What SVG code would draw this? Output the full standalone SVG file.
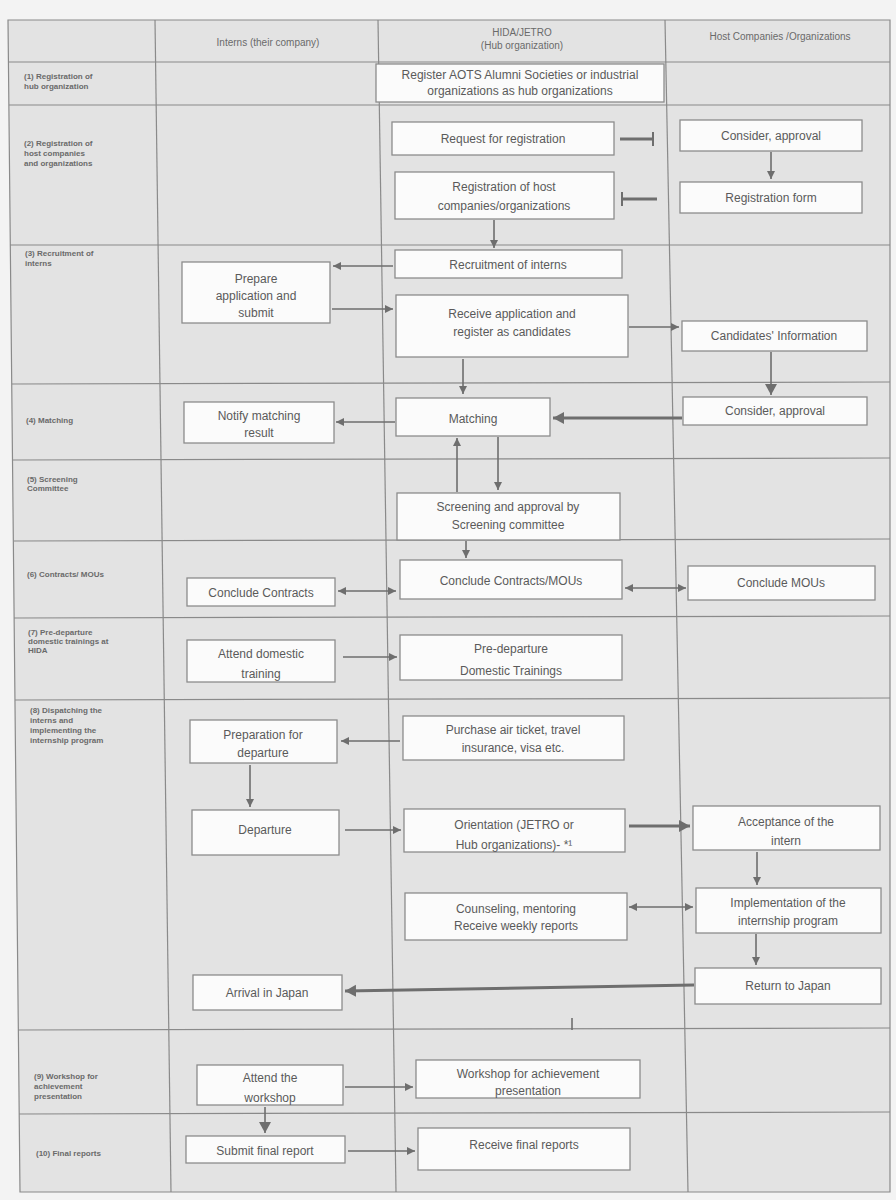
<svg xmlns="http://www.w3.org/2000/svg" width="896" height="1200" viewBox="0 0 896 1200">
<defs>
<style>
.grid{stroke:#8a8a8a;stroke-width:1.2;fill:none}
.box{fill:#fbfbfb;stroke:#8c8c8c;stroke-width:1.3}
.t{font-family:"Liberation Sans",Arial,sans-serif;font-size:12px;fill:#5a5a5a;text-anchor:middle}
.lbl{font-family:"Liberation Sans",Arial,sans-serif;font-size:8px;font-weight:bold;fill:#6a6a6a}
.hd{font-family:"Liberation Sans",Arial,sans-serif;font-size:10px;fill:#6a6a6a;text-anchor:middle}
.c{stroke:#6e6e6e;stroke-width:1.6;fill:none}
.ck{stroke:#6e6e6e;stroke-width:3;fill:none}
</style>
<marker id="ah" markerUnits="userSpaceOnUse" markerWidth="10" markerHeight="10" refX="8" refY="4" orient="auto"><path d="M0,0 L8,4 L0,8 z" fill="#6e6e6e"/></marker>
<marker id="as" markerUnits="userSpaceOnUse" markerWidth="10" markerHeight="10" refX="0" refY="4" orient="auto"><path d="M8,0 L0,4 L8,8 z" fill="#6e6e6e"/></marker>
<marker id="ahk" markerUnits="userSpaceOnUse" markerWidth="14" markerHeight="14" refX="11" refY="6" orient="auto"><path d="M0,0 L11,6 L0,12 z" fill="#6e6e6e"/></marker>
<marker id="bar" markerUnits="userSpaceOnUse" markerWidth="4" markerHeight="14" refX="2" refY="7" orient="auto"><path d="M1,0 L1,14" stroke="#6e6e6e" stroke-width="2"/></marker>
</defs>
<rect width="896" height="1200" fill="#f3f3f3"/>
<g id="table">
<path d="M8,20 L890,20 L890,1192 L20,1192 Z" fill="#e3e3e3" stroke="#8a8a8a" stroke-width="1.2"/>
<line class="grid" x1="155" y1="20" x2="171" y2="1192"/>
<line class="grid" x1="378" y1="20" x2="396" y2="1192"/>
<line class="grid" x1="665" y1="20" x2="688" y2="1192"/>
<line class="grid" x1="9" y1="62" x2="890" y2="62"/>
<line class="grid" x1="9" y1="105" x2="890" y2="105"/>
<line class="grid" x1="10" y1="245" x2="890" y2="245"/>
<line class="grid" x1="12" y1="384" x2="890" y2="382"/>
<line class="grid" x1="13" y1="460" x2="890" y2="458"/>
<line class="grid" x1="14" y1="541" x2="890" y2="539"/>
<line class="grid" x1="14" y1="618" x2="890" y2="616"/>
<line class="grid" x1="15" y1="700" x2="890" y2="698"/>
<line class="grid" x1="18" y1="1030" x2="890" y2="1028"/>
<line class="grid" x1="19" y1="1114" x2="890" y2="1112"/>
<text class="hd" x="268" y="46" font-size="11">Interns (their company)</text>
<text class="hd" x="522" y="36">HIDA/JETRO</text>
<text class="hd" x="522" y="49">(Hub organization)</text>
<text class="hd" x="780" y="40">Host Companies /Organizations</text>
<text class="lbl" x="24" y="79">(1) Registration of</text>
<text class="lbl" x="24" y="89">hub organization</text>
<text class="lbl" x="24" y="146">(2) Registration of</text>
<text class="lbl" x="24" y="156">host companies</text>
<text class="lbl" x="24" y="166">and organizations</text>
<text class="lbl" x="25" y="256">(3) Recruitment of</text>
<text class="lbl" x="25" y="266">interns</text>
<text class="lbl" x="26" y="423">(4) Matching</text>
<text class="lbl" x="27" y="482">(5) Screening</text>
<text class="lbl" x="27" y="491">Committee</text>
<text class="lbl" x="27" y="577">(6) Contracts/ MOUs</text>
<text class="lbl" x="28" y="635">(7) Pre-departure</text>
<text class="lbl" x="28" y="644">domestic trainings at</text>
<text class="lbl" x="28" y="653">HIDA</text>
<text class="lbl" x="30" y="713">(8) Dispatching the</text>
<text class="lbl" x="30" y="723">interns  and</text>
<text class="lbl" x="30" y="733">implementing the</text>
<text class="lbl" x="30" y="743">internship program</text>
<text class="lbl" x="34" y="1079">(9) Workshop for</text>
<text class="lbl" x="34" y="1089">achievement</text>
<text class="lbl" x="34" y="1099">presentation</text>
<text class="lbl" x="36" y="1156">(10) Final reports</text>
</g>
<g id="n1"><rect class="box" x="376" y="64" width="288" height="38"/><text class="t" x="520" y="79" font-size="10">Register AOTS Alumni Societies or industrial</text><text class="t" x="520" y="95" font-size="10">organizations as hub organizations</text></g>
<g id="n2"><rect class="box" x="392" y="122" width="222" height="33"/><text class="t" x="503" y="143">Request for registration</text></g>
<g id="n3"><rect class="box" x="680" y="120" width="182" height="31"/><text class="t" x="771" y="140">Consider, approval</text></g>
<g id="n4"><rect class="box" x="680" y="182" width="182" height="31"/><text class="t" x="771" y="202">Registration form</text></g>
<g id="n5"><rect class="box" x="395" y="172" width="219" height="47"/><text class="t" x="504" y="191">Registration of host</text><text class="t" x="504" y="210">companies/organizations</text></g>
<g id="n6"><rect class="box" x="395" y="250" width="227" height="28"/><text class="t" x="508" y="269">Recruitment of interns</text></g>
<g id="n7"><rect class="box" x="182" y="262" width="148" height="61"/><text class="t" x="256" y="283">Prepare</text><text class="t" x="256" y="300">application and</text><text class="t" x="256" y="317">submit</text></g>
<g id="n8"><rect class="box" x="396" y="295" width="232" height="62"/><text class="t" x="512" y="318">Receive application and</text><text class="t" x="512" y="336">register as candidates</text></g>
<g id="n9"><rect class="box" x="682" y="321" width="185" height="30"/><text class="t" x="774" y="340">Candidates' Information</text></g>
<g id="n10"><rect class="box" x="396" y="398" width="154" height="38"/><text class="t" x="473" y="423" font-size="16">Matching</text></g>
<g id="n11"><rect class="box" x="683" y="397" width="184" height="28"/><text class="t" x="775" y="415">Consider, approval</text></g>
<g id="n12"><rect class="box" x="184" y="402" width="150" height="41"/><text class="t" x="259" y="420">Notify matching</text><text class="t" x="259" y="437">result</text></g>
<g id="n13"><rect class="box" x="397" y="493" width="223" height="47"/><text class="t" x="508" y="511">Screening and approval by</text><text class="t" x="508" y="529">Screening committee</text></g>
<g id="n14"><rect class="box" x="400" y="560" width="222" height="39"/><text class="t" x="511" y="585" font-size="13">Conclude Contracts/MOUs</text></g>
<g id="n15"><rect class="box" x="688" y="566" width="187" height="34"/><text class="t" x="781" y="587">Conclude MOUs</text></g>
<g id="n16"><rect class="box" x="187" y="578" width="148" height="28"/><text class="t" x="261" y="597" font-size="11">Conclude Contracts</text></g>
<g id="n17"><rect class="box" x="187" y="640" width="148" height="42"/><text class="t" x="261" y="658">Attend domestic</text><text class="t" x="261" y="678">training</text></g>
<g id="n18"><rect class="box" x="400" y="635" width="222" height="45"/><text class="t" x="511" y="653">Pre-departure</text><text class="t" x="511" y="675">Domestic Trainings</text></g>
<g id="n19"><rect class="box" x="190" y="720" width="147" height="43"/><text class="t" x="263" y="739">Preparation for</text><text class="t" x="263" y="757">departure</text></g>
<g id="n20"><rect class="box" x="403" y="716" width="221" height="44"/><text class="t" x="513" y="734">Purchase air ticket, travel</text><text class="t" x="513" y="752">insurance, visa etc.</text></g>
<g id="n21"><rect class="box" x="192" y="810" width="147" height="45"/><text class="t" x="265" y="834">Departure</text></g>
<g id="n22"><rect class="box" x="404" y="809" width="221" height="43"/><text class="t" x="514" y="829">Orientation (JETRO or</text><text class="t" x="514" y="849">Hub organizations)- *¹</text></g>
<g id="n23"><rect class="box" x="693" y="806" width="187" height="44"/><text class="t" x="786" y="826">Acceptance of the</text><text class="t" x="786" y="845">intern</text></g>
<g id="n24"><rect class="box" x="696" y="888" width="185" height="45"/><text class="t" x="788" y="907">Implementation of the</text><text class="t" x="788" y="925">internship program</text></g>
<g id="n25"><rect class="box" x="405" y="893" width="222" height="47"/><text class="t" x="516" y="913">Counseling, mentoring</text><text class="t" x="516" y="930">Receive weekly reports</text></g>
<g id="n26"><rect class="box" x="695" y="968" width="186" height="36"/><text class="t" x="788" y="990">Return to Japan</text></g>
<g id="n27"><rect class="box" x="193" y="975" width="149" height="35"/><text class="t" x="267" y="997">Arrival in Japan</text></g>
<g id="n28"><rect class="box" x="197" y="1065" width="146" height="40"/><text class="t" x="270" y="1082">Attend the</text><text class="t" x="270" y="1102">workshop</text></g>
<g id="n29"><rect class="box" x="416" y="1060" width="224" height="38"/><text class="t" x="528" y="1078">Workshop for achievement</text><text class="t" x="528" y="1095">presentation</text></g>
<g id="n30"><rect class="box" x="186" y="1136" width="159" height="27"/><text class="t" x="265" y="1155" font-size="11">Submit final report</text></g>
<g id="n31"><rect class="box" x="418" y="1128" width="212" height="42"/><text class="t" x="524" y="1149">Receive final reports</text></g>
<g id="connectors">
<line class="ck" x1="620" y1="139" x2="654" y2="139" marker-end="url(#bar)"/>
<line class="c" x1="771" y1="152" x2="771" y2="179" marker-end="url(#ah)"/>
<line class="ck" x1="657" y1="199" x2="621" y2="199" marker-end="url(#bar)"/>
<line class="c" x1="494" y1="220" x2="494" y2="248" marker-end="url(#ah)"/>
<line class="c" x1="393" y1="266" x2="333" y2="266" marker-end="url(#ah)"/>
<line class="c" x1="332" y1="309" x2="393" y2="309" marker-end="url(#ah)"/>
<line class="c" x1="629" y1="327" x2="679" y2="327" marker-end="url(#ah)"/>
<line class="c" x1="463" y1="359" x2="463" y2="394" marker-end="url(#ah)"/>
<line class="c" x1="771" y1="352" x2="771" y2="395" stroke-width="2" marker-end="url(#ahk)"/>
<line class="ck" x1="682" y1="418" x2="553" y2="418" marker-end="url(#ahk)"/>
<line class="c" x1="395" y1="422" x2="336" y2="422" marker-end="url(#ah)"/>
<line class="c" x1="457" y1="492" x2="457" y2="438" marker-end="url(#ah)"/>
<line class="c" x1="498" y1="437" x2="498" y2="490" marker-end="url(#ah)"/>
<line class="c" x1="466" y1="541" x2="466" y2="558" marker-end="url(#ah)"/>
<line class="c" x1="625" y1="588" x2="686" y2="588" marker-start="url(#as)" marker-end="url(#ah)"/>
<line class="c" x1="338" y1="591" x2="396" y2="591" marker-start="url(#as)" marker-end="url(#ah)"/>
<line class="c" x1="343" y1="657" x2="397" y2="657" marker-end="url(#ah)"/>
<line class="c" x1="400" y1="741" x2="341" y2="741" marker-end="url(#ah)"/>
<line class="c" x1="250" y1="765" x2="250" y2="807" marker-end="url(#ah)"/>
<line class="c" x1="345" y1="830" x2="401" y2="830" marker-end="url(#ah)"/>
<line class="ck" x1="629" y1="826" x2="690" y2="826" marker-end="url(#ahk)"/>
<line class="c" x1="757" y1="852" x2="757" y2="885" marker-end="url(#ah)"/>
<line class="c" x1="629" y1="907" x2="693" y2="907" marker-start="url(#as)" marker-end="url(#ah)"/>
<line class="c" x1="756" y1="934" x2="756" y2="965" marker-end="url(#ah)"/>
<line class="ck" x1="694" y1="985" x2="345" y2="991" marker-end="url(#ahk)"/>
<line class="c" x1="572" y1="1018" x2="572" y2="1030"/>
<line class="c" x1="345" y1="1087" x2="413" y2="1087" marker-end="url(#ah)"/>
<line class="c" x1="265" y1="1107" x2="265" y2="1133" stroke-width="2" marker-end="url(#ahk)"/>
<line class="c" x1="348" y1="1151" x2="415" y2="1151" marker-end="url(#ah)"/>
</g>
</svg>
